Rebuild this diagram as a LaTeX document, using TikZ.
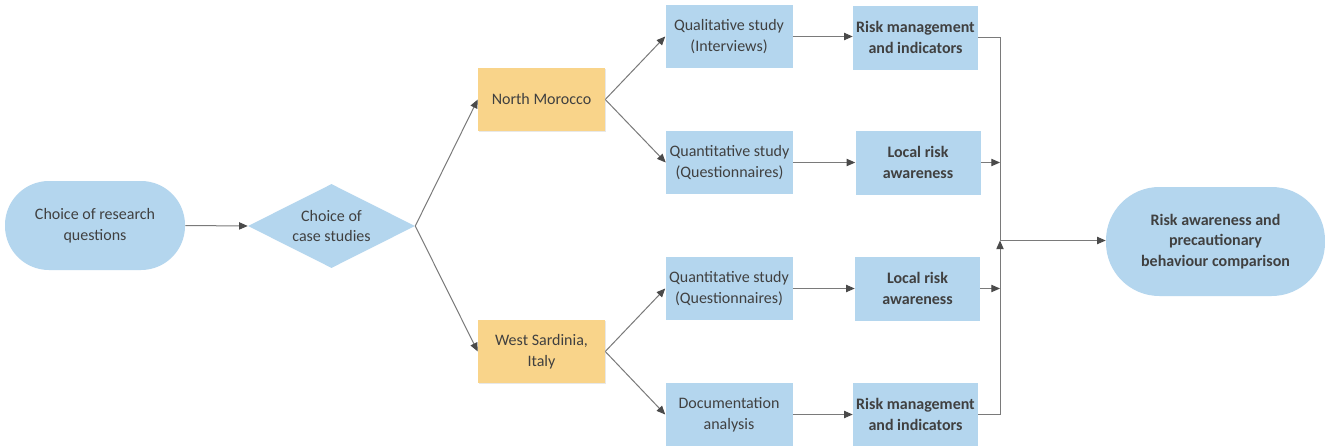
\documentclass[tikz,border=0pt]{standalone}
\usepackage{fontspec}
\setmainfont{Carlito}
\usetikzlibrary{shapes.geometric,arrows.meta,shadows}
\definecolor{boxblue}{HTML}{B4D6EE}
\definecolor{boxorange}{HTML}{F9D48A}
\definecolor{txtgray}{HTML}{404040}
\definecolor{linegray}{HTML}{7A7A7A}
\definecolor{tipgray}{HTML}{4A4A4A}
\tikzset{
  base/.style={text=txtgray, align=center, inner sep=0pt, font=\fontsize{12pt}{15.5pt}\selectfont},
  bluebox/.style={base, rectangle, fill=boxblue, minimum width=95.25pt, minimum height=47.25pt},
  riskbox/.style={bluebox, font=\fontsize{12pt}{15.5pt}\selectfont\bfseries, minimum width=93.75pt, minimum height=48pt},
  sitebox/.style={base, rectangle, fill=boxorange, minimum width=95.25pt, minimum height=47.25pt,
    drop shadow={opacity=0.18, shadow xshift=1pt, shadow yshift=-1pt}},
  conn/.style={draw=linegray, line width=0.75pt},
  arr/.style={conn, -{Triangle[length=6.5pt,width=5.5pt,color=tipgray,fill=tipgray]}},
}
\begin{document}
\begin{tikzpicture}[x=0.75pt,y=-0.75pt]
\fill[white] (0,0) rectangle (1325,446);
\useasboundingbox (0,0) rectangle (1325,446);

\node[base, fill=boxblue, rounded corners=33pt, minimum width=135pt, minimum height=66.75pt] (start) at (95,225.5) {Choice of research\\questions};
\node[base, diamond, fill=boxblue, aspect=2, minimum width=125.25pt, minimum height=63pt] (choice) at (331.5,226) {Choice of\\case studies};

\node[sitebox] (nm) at (541.5,99.5) {North Morocco};
\node[sitebox] (ws) at (541.5,351.5) {West Sardinia,\\Italy};

\node[bluebox] (qual) at (729,36.5) {Qualitative study\\(Interviews)};
\node[bluebox] (quant1) at (729.5,162.5) {Quantitative study\\(Questionnaires)};
\node[bluebox] (quant2) at (729,288.5) {Quantitative study\\(Questionnaires)};
\node[bluebox] (doc) at (729,414.5) {Documentation\\analysis};

\node[riskbox] (rm1) at (915.5,37.5) {Risk management\\and indicators};
\node[riskbox] (lr1) at (918,162.5) {Local risk\\awareness};
\node[riskbox] (lr2) at (917.5,288.5) {Local risk\\awareness};
\node[riskbox] (rm2) at (915.5,414.5) {Risk management\\and indicators};

\node[base, font=\fontsize{12pt}{15.5pt}\selectfont\bfseries, fill=boxblue, rounded corners=40pt, minimum width=164.25pt, minimum height=81.75pt] (final) at (1215.5,241.5) {Risk awareness and\\precautionary\\behaviour comparison};

\coordinate (j) at (1000,240.5);

\draw[arr] (start.east) -- (choice.west);
\draw[arr] (choice.east) -- (nm.west);
\draw[arr] (choice.east) -- (ws.west);
\draw[arr] (nm.east) -- (qual.west);
\draw[arr] (nm.east) -- (quant1.west);
\draw[arr] (ws.east) -- (quant2.west);
\draw[arr] (ws.east) -- (doc.west);

\draw[arr] (qual.east) -- (rm1.west |- qual.east);
\draw[arr] (quant1.east) -- (lr1.west |- quant1.east);
\draw[arr] (quant2.east) -- (lr2.west |- quant2.east);
\draw[arr] (doc.east) -- (rm2.west |- doc.east);

\draw[conn] (rm1.east) -| (j);
\draw[arr] (lr1.east) -- (lr1.east -| j);
\draw[arr] (lr2.east) -- (lr2.east -| j);
\draw[arr] (rm2.east) -| (j);
\draw[arr] (j) -- (final.west |- j);
\end{tikzpicture}
\end{document}
